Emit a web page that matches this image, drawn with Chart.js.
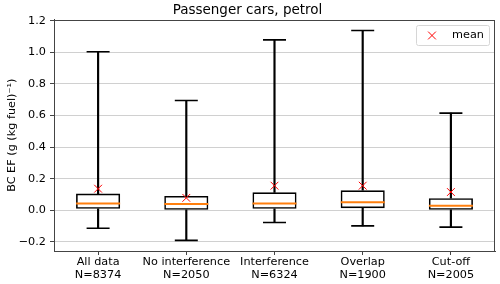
<!DOCTYPE html>
<html>
<head>
<meta charset="utf-8">
<script src="https://cdn.jsdelivr.net/npm/chart.js@4.4.1/dist/chart.umd.min.js"></script>
<style>
  html, body { margin: 0; padding: 0; background: #fff; overflow: hidden; }
  #wrap { width: 500px; height: 284px; }
  canvas { display: block; }
</style>
</head>
<body>
<div id="wrap"><canvas id="boxChart"></canvas></div>
<script>
'use strict'
{
  const categories = [['All data', 'N=8374'], ['No interference', 'N=2050'], ['Interference', 'N=6324'], ['Overlap', 'N=1900'], ['Cut-off', 'N=2005']];
  const whiskerLow = [-0.113, -0.19, -0.077, -0.098, -0.106];
  const q1 = [0.010, 0.004, 0.010, 0.014, 0.004];
  const median = [0.044, 0.041, 0.044, 0.052, 0.029];
  const q3 = [0.106, 0.091, 0.114, 0.127, 0.077];
  const whiskerHigh = [1.003, 0.695, 1.078, 1.137, 0.615];
  const mean = [0.137, 0.079, 0.156, 0.156, 0.116];
  const yTicks = [-0.2, 0.0, 0.2, 0.4, 0.6, 0.8, 1.0, 1.2];

  const font = 'DejaVu Sans';
  const spine = '#444';
  const ctx = document.getElementById('boxChart').getContext('2d');

  const capPoint = {
    type: 'line', showLine: false, pointStyle: 'line', pointRadius: 11.5,
    pointBorderColor: '#000', pointBorderWidth: 1.6, pointHoverRadius: 11.5, order: 2,
  };

  const data = {
    labels: categories,
    datasets: [
      { label: 'box', data: q1.map((v, i) => [v, q3[i]]), backgroundColor: 'rgba(0,0,0,0)',
        borderColor: '#000', borderWidth: 1.6, borderSkipped: false, grouped: false,
        barPercentage: 0.5, categoryPercentage: 1, order: 3 },
      { label: 'upper', data: q3.map((v, i) => [v, whiskerHigh[i]]), backgroundColor: '#000',
        borderWidth: 0, grouped: false, barThickness: 1.5, order: 3 },
      { label: 'lower', data: whiskerLow.map((v, i) => [v, q1[i]]), backgroundColor: '#000',
        borderWidth: 0, grouped: false, barThickness: 1.5, order: 3 },
      Object.assign({ label: 'capHigh', data: whiskerHigh }, capPoint),
      Object.assign({ label: 'capLow', data: whiskerLow }, capPoint),
      { type: 'line', label: 'median', data: median, showLine: false, pointStyle: 'line',
        pointRadius: 22, pointBorderColor: '#ff7f0e', pointBorderWidth: 2, order: 1 },
      { type: 'line', label: 'mean', data: mean, showLine: false, pointStyle: 'crossRot',
        pointRadius: 5.5, pointBorderColor: 'red', pointBorderWidth: 1, order: 0 },
    ],
  };

  // frame round the plot and the matplotlib-like legend inside it
  const framePlugin = {
    id: 'frame',
    afterDraw(chart) {
      const a = chart.chartArea;
      const c = chart.ctx;
      c.save();
      c.strokeStyle = spine;
      c.lineWidth = 1;
      c.strokeRect(Math.round(a.left) + 0.5, Math.round(a.top) + 0.5, Math.round(a.right - a.left) - 1, Math.round(a.bottom - a.top) - 1);

      const w = 73, h = 20;
      const x0 = Math.round(a.right - w - 6), y0 = Math.round(a.top + 5);
      c.fillStyle = 'rgba(255,255,255,0.8)';
      c.strokeStyle = '#d6d6d6';
      c.beginPath();
      c.roundRect(x0 + 0.5, y0 + 0.5, w, h, 2);
      c.fill();
      c.stroke();
      const mx = x0 + 16, my = y0 + h / 2 + 0.5, r = 3.9;
      c.strokeStyle = 'red';
      c.lineWidth = 1;
      c.beginPath();
      c.moveTo(mx - r, my - r); c.lineTo(mx + r, my + r);
      c.moveTo(mx - r, my + r); c.lineTo(mx + r, my - r);
      c.stroke();
      c.fillStyle = '#000';
      c.font = '11.25px "' + font + '"';
      c.textBaseline = 'middle';
      c.fillText('mean', x0 + 36, my);
      c.restore();
    }
  };

  const options = {
    animation: false,
    responsive: true,
    maintainAspectRatio: false,
    layout: { autoPadding: false, padding: { left: 0, right: 5, top: 0, bottom: 0 } },
    plugins: {
      legend: { display: false },
      tooltip: { enabled: false },
      title: {
        display: true,
        text: 'Passenger cars, petrol',
        color: '#000',
        font: { family: font, size: 13.5, weight: 'normal' },
        padding: { top: 2, bottom: 1.3 },
      },
    },
    scales: {
      x: {
        offset: true,
        grid: { display: true, drawOnChartArea: false, offset: false, tickLength: 4, tickColor: spine },
        border: { color: spine },
        ticks: { color: '#000', font: { family: font, size: 11.25, lineHeight: 1.16 }, padding: 1, maxRotation: 0, autoSkip: false },
        afterFit(scale) { scale.height = 33; },
      },
      y: {
        min: -0.257,
        max: 1.207,
        afterBuildTicks(scale) { scale.ticks = yTicks.map(v => ({ value: v })); },
        grid: { color: '#d0d0d0', tickLength: 4, tickColor: spine },
        border: { color: spine },
        ticks: {
          color: '#000', padding: 4,
          font: { family: font, size: 11.25 },
          callback: v => (v < 0 ? '\u2212' : '') + Math.abs(v).toFixed(1),
        },
        title: {
          display: true,
          text: 'BC EF (g (kg fuel)\u207b\u00b9)',
          color: '#000',
          font: { family: font, size: 11.25 },
          padding: { top: 5, bottom: 0 },
        },
        afterFit(scale) { scale.width = 54; },
      },
    },
  };

  const boxChart = new Chart(ctx, {
    type: 'bar',
    data: data,
    options: options,
    plugins: [framePlugin],
  })
}
</script>
</body>
</html>
